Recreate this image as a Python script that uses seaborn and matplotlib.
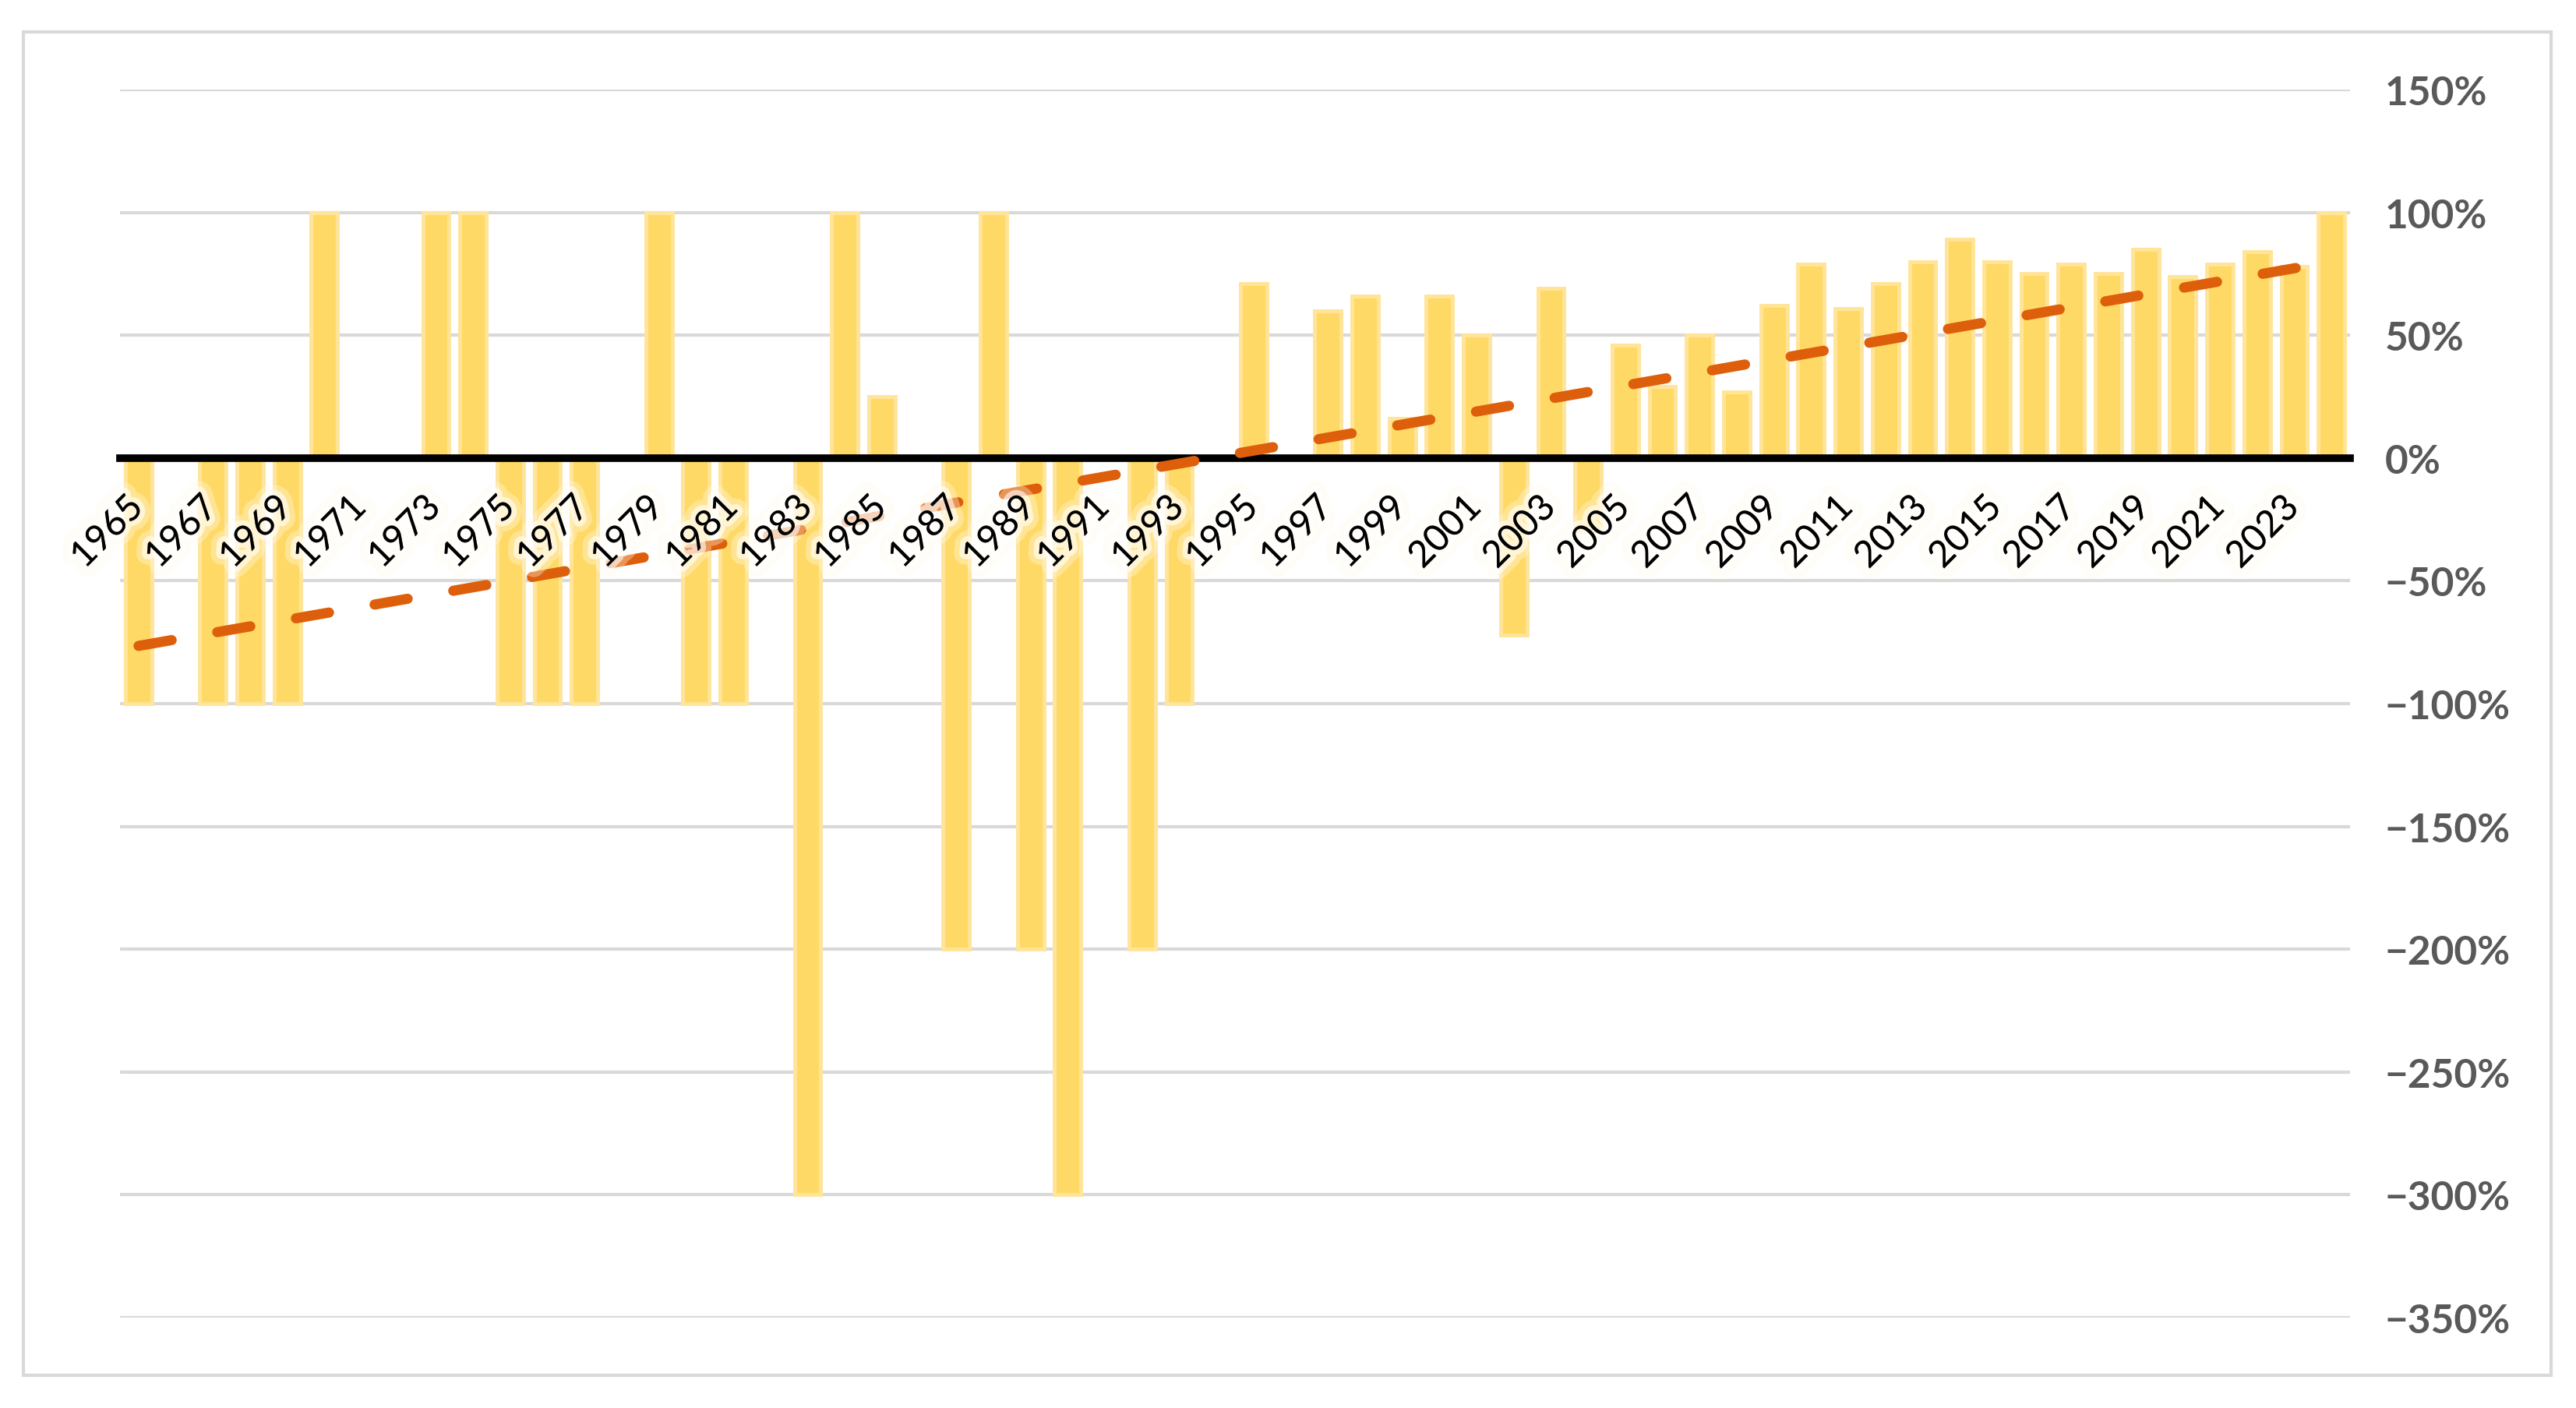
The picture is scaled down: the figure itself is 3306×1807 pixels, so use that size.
import matplotlib
matplotlib.use('Agg')
import matplotlib.pyplot as plt
import matplotlib.patheffects as pe
from matplotlib.patches import Rectangle
from matplotlib.ticker import FuncFormatter
from matplotlib.transforms import ScaledTranslation
import seaborn as sns
import pandas as pd

# yearly values in percent (0 = no bar)
years = list(range(1965, 2025))
values = [
    -100, 0, -100, -100, -100, 100, 0, 0, 100, 100,      # 1965-1974
    -100, -100, -100, 0, 100, -100, -100, 0, -300, 100,  # 1975-1984
    25, 0, -200, 100, -200, -300, 0, -200, -100, 0,      # 1985-1994
    71, 0, 60, 66, 16, 66, 50, -72, 69, -30,             # 1995-2004
    46, 29, 50, 27, 62, 79, 61, 71, 80, 89,              # 2005-2014
    80, 75, 79, 75, 85, 74, 79, 84, 78, 100,             # 2015-2024
]

# dashed linear trend, end points
trend_years = [1965, 2024]
trend_values = [-76.5, 79.9]

x_tick_years = list(range(1965, 2024, 2))
y_ticks = list(range(-350, 151, 50))

sns.set_style('white')
plt.rcParams['font.family'] = ['Lato', 'DejaVu Sans']
plt.rcParams['lines.scale_dashes'] = False

W, H = 3306, 1808
fig = plt.figure(figsize=(W / 200, H / 200), dpi=200)
ax = fig.add_axes([154 / W, 1 - 1692 / H, (3016 - 154) / W, (1692 - 116) / H])

df = pd.DataFrame({'year': years, 'value': values})
sns.barplot(data=df, x='year', y='value', native_scale=True, width=0.71,
            color='#FFD966', saturation=1, edgecolor='#FFE49A', linewidth=1.8,
            ax=ax, zorder=2)

# trend line
ax.plot(trend_years, trend_values, color='#DE5F0B', lw=4.7,
        linestyle=(0, (15.5, 21.4)), dash_capstyle='round', zorder=3)

ax.set_xlim(1964.5, 2024.5)
ax.set_ylim(-350, 150)
ax.set_xlabel('')
ax.set_ylabel('')

ax.grid(axis='y', color='#D9D9D9', lw=1.5)
ax.grid(axis='x', visible=False)
ax.set_axisbelow(True)
ax.xaxis.set_zorder(4)  # year labels over the trend line

for s in ['top', 'left', 'right']:
    ax.spines[s].set_visible(False)
ax.spines['bottom'].set_position(('data', 0))
ax.spines['bottom'].set_color('black')
ax.spines['bottom'].set_linewidth(3.5)

ax.set_yticks(y_ticks)
ax.yaxis.tick_right()
ax.yaxis.set_major_formatter(FuncFormatter(lambda v, p: f'{v:.0f}%'.replace('-', '\u2212')))
ax.tick_params(axis='y', length=0, pad=16, labelsize=18.5, labelcolor='#595959')
for t in ax.get_yticklabels():
    t.set_fontweight('bold')

ax.set_xticks(x_tick_years)
ax.set_xticklabels([str(y) for y in x_tick_years])
ax.tick_params(axis='x', length=0, pad=15, labelsize=17, labelcolor='black',
               labelrotation=45)
shift = ScaledTranslation(5 / 72, 0, fig.dpi_scale_trans)
glow = [pe.withStroke(linewidth=10, foreground='#FFFBEA', alpha=0.35),
        pe.withStroke(linewidth=5, foreground='white', alpha=0.6)]
for t in ax.get_xticklabels():
    t.set_rotation_mode('default')
    t.set_ha('right')
    t.set_va('top')
    t.set_transform(t.get_transform() + shift)
    t.set_path_effects(glow)

# light frame round the whole chart
fig.patches.append(Rectangle((30 / W, 1 - 1766 / H), (3274 - 30) / W, (1766 - 42) / H,
                             transform=fig.transFigure, fill=False,
                             edgecolor='#D9D9D9', lw=1.5))

fig.savefig('out.png', dpi=200, facecolor='white')
